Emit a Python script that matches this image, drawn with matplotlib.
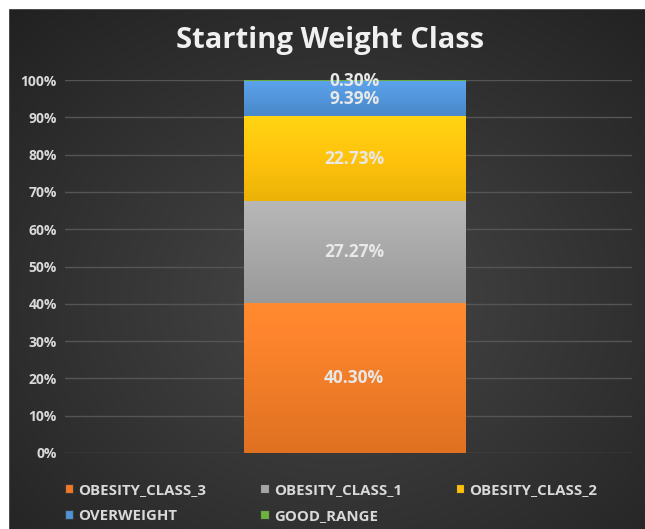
import numpy as np
import matplotlib.pyplot as plt
from matplotlib.patches import Rectangle
from matplotlib.colors import to_rgb

categories = ["OBESITY_CLASS_3", "OBESITY_CLASS_1", "OBESITY_CLASS_2", "OVERWEIGHT", "GOOD_RANGE"]
values = [40.30, 27.27, 22.73, 9.39, 0.30]
colors = ["#F07A24", "#A5A5A5", "#FDC008", "#4E92D8", "#6CB33F"]
yticks = [0, 10, 20, 30, 40, 50, 60, 70, 80, 90, 100]

plt.rcParams['font.family'] = ['Open Sans', 'DejaVu Sans']
fig = plt.figure(figsize=(6.45, 5.29), dpi=100)

# dark background with a soft radial glow
bg = fig.add_axes([0, 0, 1, 1])
yy, xx = np.mgrid[0:529, 0:645]
r = np.hypot((xx - 340) / 645, (yy - 300) / 529)
shade = 0.28 - 0.15 * np.clip(r / 0.75, 0, 1)
bg.imshow(np.dstack([shade, shade, shade]), aspect='auto', extent=[0, 645, 529, 0])
bg.set_xlim(0, 645)
bg.set_ylim(529, 0)
bg.axis('off')
# white margin on top/left
bg.add_patch(Rectangle((0, 0), 8, 529, color='white'))
bg.add_patch(Rectangle((0, 0), 645, 8, color='white'))

ax = fig.add_axes([65 / 645, 1 - 453 / 529, 567 / 645, 373 / 529])
ax.set_facecolor('none')
ax.set_zorder(2)

width = 0.39
bottom = 0
handles = []
for cat, v, c in zip(categories, values, colors):
    h = ax.bar(0, v, width=width, bottom=bottom, color=c, edgecolor='#3a3a3a', linewidth=0.8,
               label=cat, zorder=3)
    handles.append(h)
    # subtle vertical gradient on each segment
    base = np.array(to_rgb(c))
    t = np.linspace(0, 1, 64)[:, None]
    grad = np.clip(base * (0.93 + 0.12 * t) + 0.04 * t, 0, 1)
    ax.imshow(grad[:, None, :], aspect='auto', origin='lower',
              extent=[-width / 2, width / 2, bottom, bottom + v], zorder=3.5)
    ax.text(0, bottom + v / 2, f"{v:.2f}%", ha='center', va='center', color='#e8e8e8',
            fontsize=12.5, fontweight='bold', zorder=4)
    bottom += v

ax.set_xlim(-0.51, 0.49)
ax.set_ylim(0, 100)
ax.set_yticks(yticks)
ax.set_yticklabels([f"{t}%" for t in yticks], color='#d9d9d9', fontsize=10, fontweight='bold')
ax.set_xticks([])
ax.tick_params(axis='y', length=0, pad=6)
ax.grid(axis='y', color='#555555', linewidth=1, zorder=0)
for s in ax.spines.values():
    s.set_visible(False)

fig.text(330 / 645, 1 - 40 / 529, "Starting Weight Class", ha='center', va='center',
         fontsize=21, fontweight='bold', color='#f0f0f0')

# row-wise legend order for 3 columns
order = [0, 3, 1, 4, 2]
leg = ax.legend([handles[i] for i in order], [categories[i] for i in order],
                loc='upper left', bbox_to_anchor=(-0.024, -0.045), ncol=3, frameon=False,
                fontsize=10.8, handlelength=0.55, handleheight=0.55, handletextpad=0.35,
                columnspacing=3.6, labelspacing=0.75)
for t in leg.get_texts():
    t.set_color('#d9d9d9')
    t.set_fontweight('bold')

fig.savefig('out.png', dpi=100)
